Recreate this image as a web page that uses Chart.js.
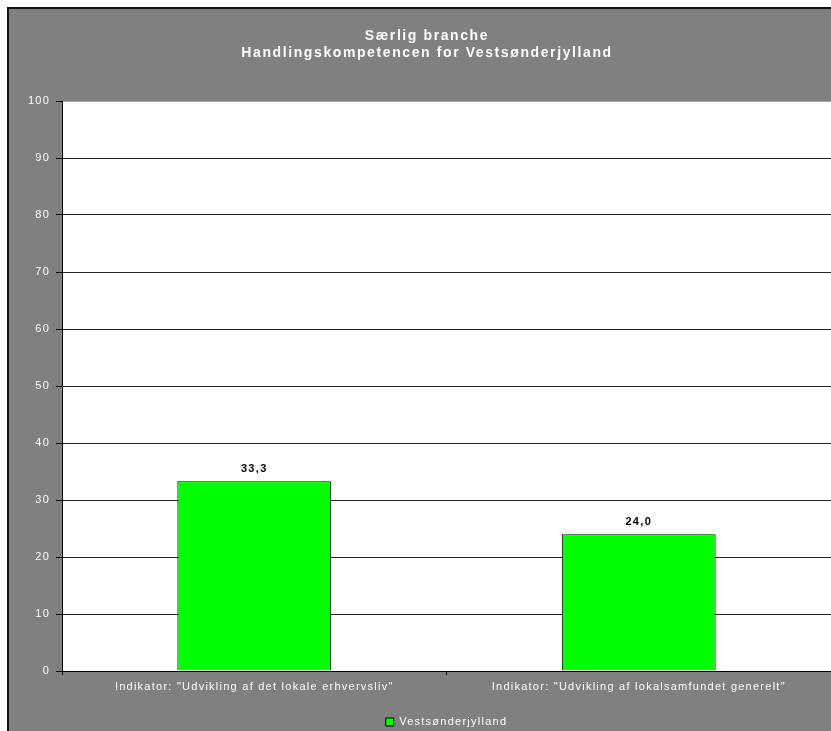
<!DOCTYPE html>
<html>
<head>
<meta charset="utf-8">
<script src="https://cdn.jsdelivr.net/npm/chart.js@4.4.1/dist/chart.umd.min.js"></script>
<style>
  html, body { margin: 0; padding: 0; background: #fff; }
  canvas { display: block; }
</style>
</head>
<body>
<canvas id="myChart" width="831" height="731"></canvas>
<script>
const titleLines = ['Særlig branche', 'Handlingskompetencen for Vestsønderjylland'];
const categories = [
    'Indikator: "Udvikling af det lokale erhvervsliv"',
    'Indikator: "Udvikling af lokalsamfundet generelt"'
];
const seriesName = 'Vestsønderjylland';
const seriesValues = [33.3, 24.0];
const yMin = 0;
const yMax = 100;
const yStep = 10;

const FONT = 'Arial, "Liberation Sans", sans-serif';

// grey frame behind everything, white plot area
const frame = {
    id: 'frame',
    beforeLayout(chart) {
        chart.ctx.letterSpacing = '1.25px';
    },
    beforeDraw(chart) {
        const ctx = chart.ctx;
        const area = chart.chartArea;
        ctx.letterSpacing = '1.25px';

        // title drawn a bit more spaced out
        const tb = chart.titleBlock;
        if (tb && !tb._spaced) {
            const draw = tb.draw;
            tb.draw = function (a) {
                this.ctx.save();
                this.ctx.letterSpacing = '1.6px';
                draw.call(this, a);
                this.ctx.restore();
            };
            tb._spaced = true;
        }

        ctx.save();
        ctx.fillStyle = '#ffffff';
        ctx.fillRect(0, 0, chart.width, chart.height);
        ctx.fillStyle = '#111';
        ctx.fillRect(7, 7, chart.width - 7, chart.height - 7);
        ctx.fillStyle = '#808080';
        ctx.fillRect(9, 9, chart.width - 9, chart.height - 9);
        ctx.fillStyle = '#ffffff';
        ctx.fillRect(area.left, area.top, area.right - area.left, area.bottom - area.top);
        ctx.restore();
    }
};

// value above each bar, comma decimals
const barValues = {
    id: 'barValues',
    afterDatasetsDraw(chart) {
        const ctx = chart.ctx;
        ctx.save();
        ctx.letterSpacing = '1.3px';
        ctx.font = 'bold 11px ' + FONT;
        ctx.fillStyle = '#000';
        ctx.textAlign = 'center';
        ctx.textBaseline = 'alphabetic';
        chart.getDatasetMeta(0).data.forEach((bar, i) => {
            const txt = seriesValues[i].toFixed(1).replace('.', ',');
            ctx.fillText(txt, bar.x, bar.y - 9);
        });
        ctx.restore();
    }
};

const ctx = document.getElementById('myChart').getContext('2d');
const myChart = new Chart(ctx, {
    type: 'bar',
    data: {
        labels: categories,
        datasets: [{
            label: seriesName,
            data: seriesValues,
            backgroundColor: '#00ff00',
            borderColor: '#000000',
            borderWidth: 1,
            barPercentage: 0.4,
            categoryPercentage: 1
        }]
    },
    options: {
        responsive: false,
        animation: false,
        devicePixelRatio: 1,
        layout: {
            padding: { left: 23, right: 0, top: 0, bottom: -6.5 }
        },
        plugins: {
            title: {
                display: true,
                text: titleLines,
                color: '#ffffff',
                font: { family: FONT, size: 14, weight: 'bold', lineHeight: 1.25 },
                padding: { top: 27, bottom: 39 }
            },
            legend: {
                position: 'bottom',
                fullSize: false,
                labels: {
                    color: '#ffffff',
                    font: { family: FONT, size: 11 },
                    boxWidth: 8,
                    boxHeight: 8,
                    padding: 6
                }
            },
            tooltip: { enabled: false }
        },
        scales: {
            x: {
                border: { color: '#000', width: 1 },
                grid: {
                    offset: true,
                    drawOnChartArea: false,
                    color: '#000',
                    tickLength: 4
                },
                ticks: {
                    color: '#ffffff',
                    font: { family: FONT, size: 11 },
                    padding: 5,
                    maxRotation: 0
                },
                afterFit(scale) { scale.height = 39.5; }
            },
            y: {
                min: yMin,
                max: yMax,
                border: { color: '#000', width: 1 },
                grid: {
                    color: c => (c.tick && c.tick.value === yMax ? '#a8a8a8' : '#222'),
                    tickColor: '#000',
                    tickLength: 6
                },
                ticks: {
                    stepSize: yStep,
                    color: '#ffffff',
                    font: { family: FONT, size: 11 },
                    padding: 6
                },
                afterFit(scale) { scale.width = 39; }
            }
        }
    },
    plugins: [frame, barValues]
});
</script>
</body>
</html>
